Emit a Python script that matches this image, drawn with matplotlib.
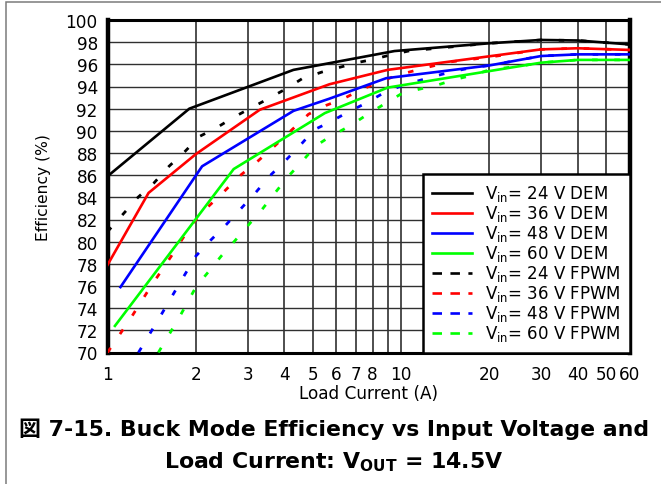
import matplotlib
matplotlib.use("Agg")
import matplotlib.pyplot as plt
from matplotlib.lines import Line2D
from matplotlib.patches import Rectangle
from matplotlib.ticker import FixedLocator, FixedFormatter, NullLocator

plt.rcParams['font.family'] = ['DejaVu Sans', 'Noto Sans CJK JP']
plt.rcParams['mathtext.default'] = 'regular'

# ---- efficiency data: load current (A) vs efficiency (%) ----
i_24_dem = [1.0, 1.9, 4.3, 9.5, 20, 30, 40, 60]
e_24_dem = [85.9, 92.0, 95.5, 97.2, 97.9, 98.2, 98.15, 97.8]

i_36_dem = [1.0, 1.38, 2.0, 3.3, 5.7, 9.0, 30, 40, 60]
e_36_dem = [77.9, 84.4, 87.9, 91.9, 94.2, 95.5, 97.35, 97.45, 97.3]

i_48_dem = [1.107, 2.1, 4.3, 5.7, 8.9, 20, 30, 40, 60]
e_48_dem = [75.9, 86.8, 91.8, 92.9, 94.75, 95.9, 96.75, 96.9, 96.9]

i_60_dem = [1.06, 2.69, 5.5, 9.0, 30, 40, 60]
e_60_dem = [72.4, 86.55, 91.6, 93.9, 96.15, 96.4, 96.4]

i_24_fpwm = [1.0, 1.27, 1.44, 1.62, 1.83, 2.06, 2.36, 2.68, 3.1, 3.53, 4.06,
             4.6, 5.37, 6.12, 7.07, 8.05, 9.2, 10.6, 12.1, 13.9, 15.9, 20,
             30, 40, 60]
e_24_fpwm = [80.9, 84.0, 85.3, 86.8, 88.1, 89.5, 90.3, 91.2, 92.1, 92.9, 93.8,
             94.7, 95.3, 95.7, 96.15, 96.45, 96.85, 97.2, 97.35, 97.5, 97.65,
             97.9, 98.2, 98.15, 97.8]

i_36_fpwm = [1.0, 1.2, 1.4, 1.65, 1.93, 2.15, 2.47, 2.81, 3.23, 3.7, 4.25,
             4.84, 5.56, 6.36, 7.3, 8.35, 9.67, 11.0, 12.6, 14.5, 20, 30, 40, 60]
e_36_fpwm = [70.0, 73.1, 75.9, 78.7, 81.5, 82.9, 84.4, 85.9, 87.2, 88.6, 90.1,
             91.5, 92.3, 92.9, 93.7, 94.35, 95.0, 95.4, 95.8, 96.2, 96.65,
             97.35, 97.45, 97.3]

i_48_fpwm = [1.275, 1.5, 1.73, 2.0, 2.24, 2.53, 2.83, 3.19, 3.56, 4.0, 4.5,
             5.06, 5.74, 6.6, 7.6, 8.7, 9.9, 11.4, 13.1, 15.0, 17.4, 20, 30,
             40, 60]
e_48_fpwm = [70.0, 73.1, 75.9, 78.7, 80.1, 81.5, 82.9, 84.4, 85.9, 87.2, 88.6,
             90.1, 90.8, 91.7, 92.5, 93.4, 94.0, 94.5, 94.95, 95.35, 95.7, 95.9,
             96.75, 96.9, 96.9]

i_60_fpwm = [1.49, 1.75, 2.0, 2.21, 2.44, 2.72, 3.02, 3.36, 3.72, 4.13, 4.59,
             5.1, 5.66, 6.7, 7.6, 8.75, 9.96, 11.5, 13.2, 15.1, 17.4, 20, 26.3,
             30, 40, 60]
e_60_fpwm = [70.0, 73.1, 75.9, 77.3, 78.7, 80.1, 81.5, 82.9, 84.4, 85.9, 87.2,
             88.6, 89.4, 90.45, 91.4, 92.4, 93.3, 93.75, 94.1, 94.6, 95.0, 95.5,
             95.9, 96.15, 96.4, 96.4]

dem_labels = ['V$_{in}$= 24 V DEM', 'V$_{in}$= 36 V DEM',
              'V$_{in}$= 48 V DEM', 'V$_{in}$= 60 V DEM']
fpwm_labels = ['V$_{in}$= 24 V FPWM', 'V$_{in}$= 36 V FPWM',
               'V$_{in}$= 48 V FPWM', 'V$_{in}$= 60 V FPWM']
colors = ['#000000', '#ff0000', '#0000ff', '#00ff00']

x_ticks = [1, 2, 3, 4, 5, 6, 7, 8, 9, 10, 20, 30, 40, 50, 60]
x_tick_labels = ['1', '2', '3', '4', '5', '6', '7', '8', '', '10',
                 '20', '30', '40', '50', '60']
y_ticks = list(range(70, 101, 2))

# ---- figure ----
W, H = 661, 485
fig = plt.figure(figsize=(W / 100, H / 100), dpi=100)
ax_l, ax_r, ax_t, ax_b = 107.5, 629.5, 21.0, 353.5
ax = fig.add_axes([ax_l / W, 1 - ax_b / H, (ax_r - ax_l) / W, (ax_b - ax_t) / H])

dem_sets = [(i_24_dem, e_24_dem), (i_36_dem, e_36_dem),
            (i_48_dem, e_48_dem), (i_60_dem, e_60_dem)]
fpwm_sets = [(i_24_fpwm, e_24_fpwm), (i_36_fpwm, e_36_fpwm),
             (i_48_fpwm, e_48_fpwm), (i_60_fpwm, e_60_fpwm)]

for (xs, ys), c in zip(fpwm_sets, colors):
    ax.plot(xs, ys, color=c, lw=2.0, linestyle=(0, (2.0, 6.0)),
            dash_capstyle='butt', zorder=3)

dem_lines = []
for (xs, ys), c in zip(dem_sets, colors):
    ln, = ax.plot(xs, ys, color=c, lw=1.9, zorder=4)
    dem_lines.append(ln)

ax.set_xscale('log')
ax.set_xlim(1, 60)
ax.set_ylim(70, 100)
ax.xaxis.set_major_locator(FixedLocator(x_ticks))
ax.xaxis.set_major_formatter(FixedFormatter(x_tick_labels))
ax.xaxis.set_minor_locator(NullLocator())
ax.set_yticks(y_ticks)
ax.tick_params(axis='both', length=0, labelsize=12.2)
ax.tick_params(axis='x', pad=9)
ax.tick_params(axis='y', pad=7)

ax.set_axisbelow(True)
ax.xaxis.grid(True, color='#404040', lw=1.3)
ax.yaxis.grid(True, color='#303030', lw=1.0)
for side, sp in ax.spines.items():
    sp.set_color('black')
    sp.set_linewidth(3.2 if side in ('left', 'right') else 2.2)

ax.set_xlabel('Load Current (A)', fontsize=12.2)
ax.xaxis.label.set_va('baseline')
ax.xaxis.set_label_coords(0.5, -0.1368)
ax.set_ylabel('Efficiency (%)', fontsize=11.2)
ax.yaxis.label.set_va('center')
ax.yaxis.set_label_coords(-0.1226, 0.5)

fpwm_handles = [Line2D([], [], color=c, lw=1.9, linestyle=(0, (3.6, 3.2)),
                       dash_capstyle='butt') for c in colors]
leg = ax.legend(dem_lines + fpwm_handles, dem_labels + fpwm_labels,
                loc='lower right', borderaxespad=0, fancybox=False,
                framealpha=1, edgecolor='black', fontsize=12,
                handlelength=2.35, handletextpad=0.78, borderpad=0.55,
                labelspacing=0.0)
leg.get_frame().set_linewidth(1.8)
leg.set_zorder(6)

# caption below the plot
cap_font = ['DejaVu Sans', 'Noto Sans CJK JP']
fig.text(334 / W, 1 - 436 / H,
         '図 7-15. Buck Mode Efficiency vs Input Voltage and',
         ha='center', va='baseline', fontsize=15.8, fontweight='bold',
         family=cap_font)
fig.text(334 / W, 1 - 468 / H, 'Load Current: V$_{OUT}$ = 14.5V',
         ha='center', va='baseline', fontsize=15.8, fontweight='bold',
         family=cap_font)

# outer frame (open on the right and bottom edges of the canvas)
fig.add_artist(Rectangle((5.5 / W, -5 / H), (670 - 5.5) / W, (482.5 + 5) / H,
                         transform=fig.transFigure, fill=False,
                         edgecolor='#7a7a7a', lw=1.1))

fig.savefig('out.png', dpi=100)
